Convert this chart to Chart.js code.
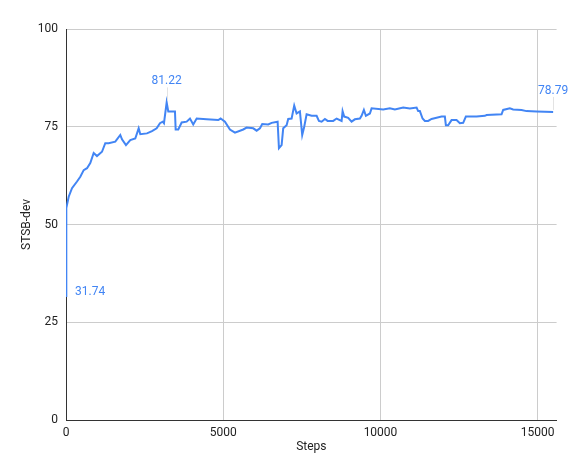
<!DOCTYPE html>
<html>
<head>
<meta charset="utf-8">
<script src="https://cdn.jsdelivr.net/npm/chart.js@4/dist/chart.umd.min.js"></script>
<style>
html,body{margin:0;padding:0;background:#fff;}
#wrap{width:572px;height:461px;position:relative;}
</style>
</head>
<body>
<div id="wrap"><canvas id="c"></canvas></div>
<script>
const steps = [0,10,86,191,350,455,563,668,772,880,985,1144,1249,1357,1567,1726,1780,1907,2044,2203,2311,2362,2575,2734,2883,2988,3074,3115,3201,3252,3465,3487,3570,3678,3837,3942,4046,4155,4472,4841,4917,5054,5213,5372,5636,5744,5954,6062,6167,6240,6431,6539,6729,6771,6856,6907,7015,7066,7174,7257,7333,7438,7511,7575,7651,7810,7969,8042,8128,8233,8319,8497,8605,8764,8795,8846,8973,9081,9186,9345,9399,9472,9536,9663,9717,10086,10299,10458,10722,10935,11148,11198,11252,11338,11411,11516,11624,11942,12047,12079,12152,12260,12419,12524,12629,12715,13055,13319,13373,13850,13901,14113,14218,14485,14644,14962,15490];
const stsbDev = [31.74,54.2,57.1,59.3,61.0,62.2,63.9,64.4,65.7,68.3,67.5,68.6,70.8,70.8,71.2,72.9,71.8,70.3,71.6,72.0,74.6,73.1,73.3,73.9,74.6,75.9,76.3,75.9,81.22,78.9,78.9,74.3,74.3,76.1,76.3,77.1,75.6,77.1,76.9,76.7,77.1,76.3,74.3,73.5,74.3,74.8,74.6,74.0,74.6,75.7,75.6,76.0,76.3,69.5,70.3,74.6,75.4,77.0,77.1,80.4,78.4,78.9,72.9,75.0,78.2,77.8,77.8,76.5,76.3,77.0,76.5,76.5,77.1,76.5,79.0,77.6,77.3,76.3,76.9,77.1,77.8,79.3,77.8,78.4,79.7,79.4,79.7,79.4,79.9,79.7,79.9,79.0,79.0,77.1,76.5,76.5,77.0,77.6,77.6,75.4,75.4,76.7,76.7,75.9,76.0,77.6,77.6,77.8,78.0,78.2,79.3,79.7,79.4,79.3,79.0,78.9,78.79];
const xTicks = [0,5000,10000,15000];
const yTicks = [0,25,50,75,100];
const labelledIdx = [0, 28, stsbDev.length - 1];

const lineColor = '#4285F4';
const labelPlugin = {
  id: 'pointLabels',
  afterDatasetsDraw(chart) {
    const ctx = chart.ctx;
    const meta = chart.getDatasetMeta(0);
    ctx.save();
    ctx.font = '12px Roboto, "Liberation Sans", Arial, sans-serif';
    ctx.fillStyle = lineColor;
    labelledIdx.forEach((i, k) => {
      const p = meta.data[i];
      const txt = stsbDev[i].toFixed(2);
      if (k === 0) {
        ctx.textAlign = 'left'; ctx.textBaseline = 'middle';
        ctx.fillText(txt, p.x + 9, p.y - 4);
      } else {
        ctx.strokeStyle = '#e3e3e3'; ctx.lineWidth = 1;
        ctx.beginPath(); ctx.moveTo(Math.round(p.x) + 0.5, p.y - 2); ctx.lineTo(Math.round(p.x) + 0.5, p.y - 15); ctx.stroke();
        ctx.textAlign = 'center'; ctx.textBaseline = 'bottom';
        let tx = p.x;
        const w = ctx.measureText(txt).width;
        if (tx + w / 2 > chart.width - 1) tx = chart.width - 1 - w / 2;
        ctx.fillText(txt, tx, p.y - 15);
      }
    });
    ctx.restore();
  }
};

const tickFont = {family: 'Roboto, "Liberation Sans", Arial, sans-serif', size: 12};
new Chart(document.getElementById('c'), {
  type: 'line',
  data: {
    datasets: [{
      data: steps.map((s, i) => ({x: s, y: stsbDev[i]})),
      borderColor: lineColor,
      borderWidth: 2,
      pointRadius: 0,
      tension: 0,
      fill: false
    }]
  },
  options: {
    responsive: true,
    maintainAspectRatio: false,
    animation: false,
    layout: {padding: {left: 0, top: 29, right: 15.4, bottom: 0}},
    plugins: {legend: {display: false}, tooltip: {enabled: false}},
    scales: {
      x: {
        type: 'linear', min: 0, max: 15600,
        afterBuildTicks(s) { s.ticks = xTicks.map(v => ({value: v})); },
        afterFit(s) { s.height = 41; },
        grid: {color: '#cccccc', drawTicks: false},
        border: {color: '#333333', width: 1},
        ticks: {font: tickFont, color: '#222', padding: 6, maxRotation: 0, callback: v => String(v)},
        title: {display: true, text: 'Steps', font: tickFont, color: '#222', padding: {top: 0, bottom: 7}}
      },
      y: {
        min: 0, max: 100,
        afterBuildTicks(s) { s.ticks = yTicks.map(v => ({value: v})); },
        afterFit(s) { s.width = 66; },
        grid: {color: '#cccccc', drawTicks: false},
        border: {color: '#333333', width: 1},
        ticks: {font: tickFont, color: '#222', padding: 8, callback: v => String(v)},
        title: {display: true, text: 'STSB-dev', font: tickFont, color: '#222', padding: {top: 20, bottom: 0}}
      }
    }
  },
  plugins: [labelPlugin]
});
</script>
</body>
</html>
